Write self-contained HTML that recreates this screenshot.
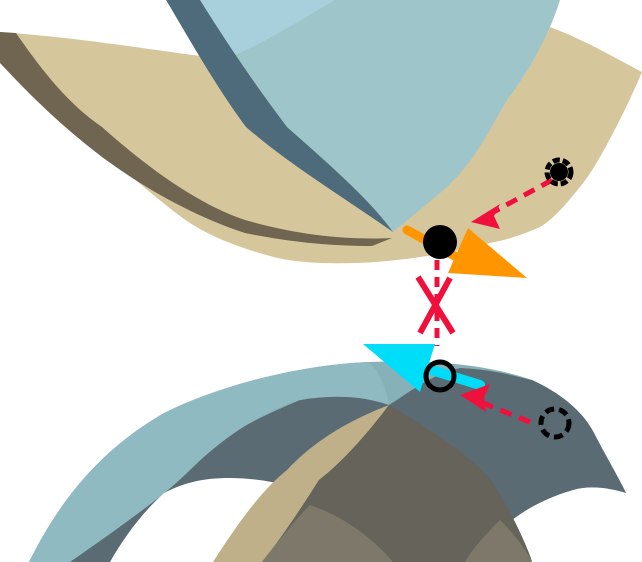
<!DOCTYPE html>
<html><head><meta charset="utf-8"><style>
html,body{margin:0;padding:0;background:#fff;width:642px;height:562px;overflow:hidden}
svg{display:block}
</style></head><body>
<svg width="642" height="562" viewBox="0 0 642 562">
<!-- upper tan surface -->
<path fill="#d6c69c" d="M0,32 C80,38 140,48 200,56 L550,27 C585,40 615,58 642,72 C630,100 620,120 613,133 C600,158 590,175 580,187 C565,205 555,218 540,227 C520,236 505,240 490,243 C440,256 390,262 356,263 C320,264 290,262 270,256 C230,245 200,232 176,213 C120,170 60,110 0,63 Z"/>
<path fill="#6f6550" d="M0,32 L16,33 C45,75 70,105 102,127 C150,170 200,205 245,220 C300,236 350,240 392,238 L372,246 C320,246 280,240 245,233 C190,215 140,185 102,157 C60,125 30,95 0,63 Z"/>
<!-- upper blue cone -->
<path fill="#9ec5c9" d="M200,0 L560,0 C557,10 553,20 550,27 C535,60 522,80 507,100 C495,120 485,140 473,157 C462,172 452,183 440,193 C420,210 405,222 393,232 C370,200 330,165 287,127 C255,85 225,40 200,0 Z"/>
<path fill="#a7d0dc" d="M200,0 L335,0 C300,20 270,40 235,55 C222,35 210,18 200,0 Z"/>
<path fill="#4d6b7b" d="M166,0 L200,0 C225,40 255,85 287,127 C330,165 370,200 393,232 C340,195 290,165 246,127 C215,85 190,40 166,0 Z"/>
<!-- lower surfaces -->
<path fill="#86b1b9" d="M29,562 C60,500 100,450 164,413 C220,385 300,365 368,362 C420,360 480,362 532,380 C565,395 585,415 594,433 C608,460 620,480 626,493 C610,488 590,485 573,490 C545,498 525,510 512,520 C520,535 528,548 532,562 Z"/>
<path fill="#5a6b73" d="M70,562 C100,520 130,490 164,480 C200,450 240,425 300,400 C340,392 370,392 389,405 C410,392 430,375 460,368 C500,370 520,378 532,380 C565,395 585,415 594,433 C608,460 620,480 626,493 C610,488 590,485 573,490 C545,498 525,510 512,520 C520,535 528,548 532,562 Z"/>
<path fill="#ffffff" d="M164,493 C185,482 205,478 229,478 C250,478 270,481 290,486 C265,520 240,545 225,562 L110,562 C125,535 145,510 164,493 Z"/>
<path fill="#8fbac2" d="M29,562 C60,500 100,450 164,413 C220,385 300,365 368,362 C380,370 386,390 389,405 C360,395 330,395 300,400 C260,412 220,440 190,470 C165,495 130,520 70,562 Z"/>
<path fill="#bfb08a" d="M213,562 C240,520 262,490 287,470 C315,440 350,420 389,405 C370,430 345,460 319,480 C300,510 280,540 262,562 Z"/>
<path fill="#65635a" d="M262,562 C280,540 300,510 319,480 C345,460 370,430 389,405 C430,430 470,455 491,480 C510,510 525,540 532,562 Z"/>
<path fill="#7d786a" d="M262,562 C275,545 295,520 310,505 C340,515 370,535 393,562 Z M465,562 C475,545 490,530 500,520 C515,535 525,548 532,562 Z"/>
<!-- markers -->
<g>
<line x1="552" y1="180" x2="488" y2="215" stroke="#f0103c" stroke-width="5" stroke-dasharray="12,8"/>
<path d="M471,222 L500,204 L494,216 L500,229 Z" fill="#f0103c"/>
</g>
<g>
<circle cx="559" cy="172" r="9" fill="#000"/>
<circle cx="559" cy="172" r="12" fill="none" stroke="#000" stroke-width="5" stroke-dasharray="7,3"/>
</g>
<line x1="407" y1="230" x2="462" y2="260" stroke="#ff9500" stroke-width="9" stroke-linecap="round"/>
<path fill="#ff9500" d="M468,228 L527,278 L448,273 Z"/>
<circle cx="440" cy="242" r="17" fill="#000"/>
<line x1="437" y1="260" x2="437" y2="346" stroke="#f0103c" stroke-width="5" stroke-dasharray="10,7"/>
<g stroke="#f0103c" stroke-width="6">
<line x1="418" y1="277" x2="453" y2="333"/>
<line x1="450" y1="278" x2="420" y2="333"/>
</g>
<path fill="#00ddf8" d="M363,344 L435,344 L420,392 Z"/>
<line x1="425" y1="368" x2="480" y2="385" stroke="#00ddf8" stroke-width="10" stroke-linecap="round"/>
<circle cx="440" cy="376" r="14" fill="none" stroke="#000" stroke-width="5"/>
<g>
<line x1="530" y1="422" x2="478" y2="401" stroke="#f0103c" stroke-width="5" stroke-dasharray="12,8"/>
<path d="M460,395 L490,384 L484,398 L486,412 Z" fill="#f0103c"/>
</g>
<circle cx="555" cy="423" r="14" fill="none" stroke="#000" stroke-width="5" stroke-dasharray="9,5"/>
</svg>
</body></html>
